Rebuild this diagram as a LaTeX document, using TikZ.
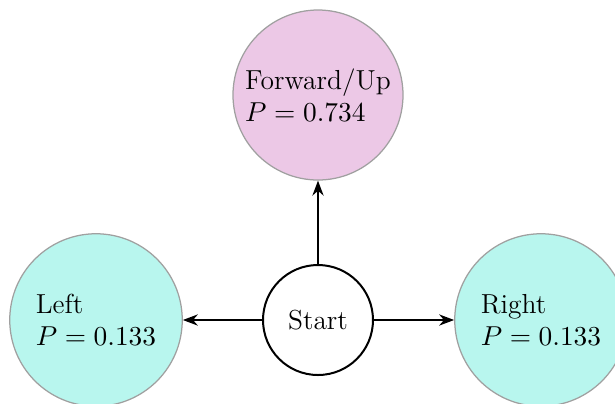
\documentclass[tikz,border=0pt]{standalone}
\usetikzlibrary{arrows.meta}
\definecolor{uppink}{RGB}{236,200,230}
\definecolor{sidecyan}{RGB}{184,246,238}
\definecolor{rimgray}{RGB}{160,160,160}
\tikzset{
  outcome/.style={circle, draw=rimgray, line width=0.5pt, align=left, inner sep=1pt, font=\fontsize{11}{13}\selectfont},
  startnode/.style={circle, draw=black, line width=0.8pt, fill=white, inner sep=0pt, minimum size=44pt, font=\fontsize{11}{13}\selectfont},
  conn/.style={-{Stealth[length=6pt,width=4.5pt]}, line width=0.6pt}
}
\begin{document}
\begin{tikzpicture}[x=0.4pt,y=-0.4pt]
\useasboundingbox (0,0) rectangle (615,403);
\begin{scope}
\clip (0,0) rectangle (615,403);
\node[outcome, fill=uppink, minimum size=68pt] (up) at (318,95) {Forward/Up\\$P=0.734$};
\node[outcome, fill=sidecyan, minimum size=69pt] (left) at (96,320) {Left\\$P=0.133$};
\node[outcome, fill=sidecyan, minimum size=69pt] (right) at (541,320) {Right\\$P=0.133$};
\end{scope}
\node[startnode] (start) at (318,320) {Start};
\draw[conn] (start) -- (up);
\draw[conn] (start) -- (left);
\draw[conn] (start) -- (right);
\end{tikzpicture}
\end{document}
